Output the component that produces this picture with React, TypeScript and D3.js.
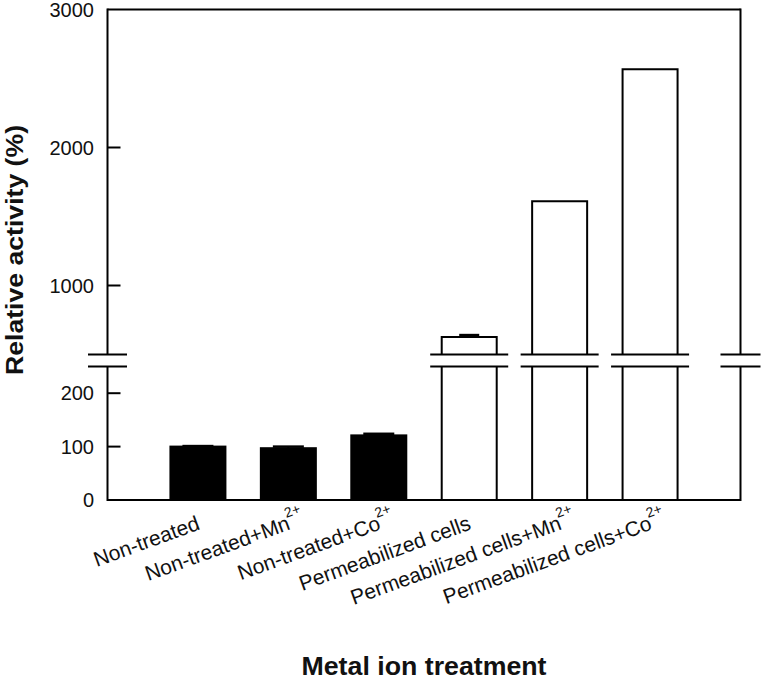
import React from "react";
import * as d3 from "d3";

const categories = [
  "Non-treated",
  "Non-treated+Mn",
  "Non-treated+Co",
  "Permeabilized cells",
  "Permeabilized cells+Mn",
  "Permeabilized cells+Co",
];
const superscripts = ["", "2+", "2+", "", "2+", "2+"];
const values = [100, 97, 121, 627, 1610, 2567];
const errors = [1, 3, 3, 12, 0, 0];
const lowerTicks = [0, 100, 200];
const upperTicks = [1000, 2000, 3000];
const lowerDomain = [0, 250];
const upperDomain = [500, 3000];

const W = 761;
const H = 680;
const FONT = "'Liberation Sans', Arial, sans-serif";

export default function App() {
  const left = 107.5;
  const right = 740.5;
  const bottom = 500;
  const top = 9.5;
  const breakLow = 366.5;
  const breakHigh = 354.5;

  const x = d3.scaleLinear().domain([0, categories.length + 1]).range([left, right]);
  const yLow = d3.scaleLinear().domain(lowerDomain).range([bottom, breakLow]);
  const yHigh = d3.scaleLinear().domain(upperDomain).range([breakHigh, top]);
  const y = (v: number) => (v <= lowerDomain[1] ? yLow(v) : yHigh(v));

  const barW = 55;
  const stroke = "#000";
  const sw = 2;

  const breakMark = (cx: number, half: number, key: string) => (
    <g key={key}>
      <line x1={cx - half} x2={cx + half} y1={breakHigh} y2={breakHigh} stroke={stroke} strokeWidth={sw} />
      <line x1={cx - half} x2={cx + half} y1={breakLow} y2={breakLow} stroke={stroke} strokeWidth={sw} />
    </g>
  );

  return (
    <div style={{ position: "fixed", left: 0, top: 0, width: W, height: H, background: "#fff" }}>
      <svg width={W} height={H} style={{ display: "block" }}>
        <rect width={W} height={H} fill="#fff" />
        {/* bars */}
        {values.map((v, i) => {
          const cx = x(i + 1);
          const x0 = cx - barW / 2;
          const x1 = cx + barW / 2;
          const filled = i < 3;
          const fill = filled ? "#000" : "#fff";
          const broken = v > lowerDomain[1];
          const err = errors[i];
          const capW = filled ? 31 : 20;
          const yTop = y(v);
          const yErr = y(v + err);
          if (!broken) {
            return (
              <g key={i}>
                <rect x={x0} y={yTop} width={barW} height={bottom - yTop} fill={fill} stroke={stroke} strokeWidth={sw} />
                {err > 0 && (
                  <g>
                    <line x1={cx} x2={cx} y1={yTop} y2={yErr} stroke={stroke} strokeWidth={sw} />
                    <line x1={cx - capW / 2} x2={cx + capW / 2} y1={yErr} y2={yErr} stroke={stroke} strokeWidth={2.5} />
                  </g>
                )}
              </g>
            );
          }
          return (
            <g key={i}>
              <path
                d={`M${x0},${breakHigh} L${x0},${yTop} L${x1},${yTop} L${x1},${breakHigh}`}
                fill={fill}
                stroke={stroke}
                strokeWidth={sw}
              />
              <path d={`M${x0},${bottom} L${x0},${breakLow} M${x1},${breakLow} L${x1},${bottom}`} fill="none" stroke={stroke} strokeWidth={sw} />
              {err > 0 && (
                <g>
                  <line x1={cx} x2={cx} y1={yTop} y2={yErr} stroke={stroke} strokeWidth={sw} />
                  <line x1={cx - capW / 2} x2={cx + capW / 2} y1={yErr} y2={yErr} stroke={stroke} strokeWidth={3} />
                </g>
              )}
              {breakMark(cx, barW / 2 + 11.5, "b" + i)}
            </g>
          );
        })}

        {/* frame */}
        <line x1={left} x2={right} y1={top} y2={top} stroke={stroke} strokeWidth={sw} />
        <line x1={left} x2={right} y1={bottom} y2={bottom} stroke={stroke} strokeWidth={sw} />
        <line x1={left} x2={left} y1={top - 1} y2={breakHigh} stroke={stroke} strokeWidth={sw} />
        <line x1={left} x2={left} y1={breakLow} y2={bottom + 1} stroke={stroke} strokeWidth={sw} />
        <line x1={right} x2={right} y1={top - 1} y2={breakHigh} stroke={stroke} strokeWidth={sw} />
        <line x1={right} x2={right} y1={breakLow} y2={bottom + 1} stroke={stroke} strokeWidth={sw} />
        {breakMark(left, 19.5, "bl")}
        {breakMark(right, 20, "br")}

        {/* y ticks */}
        {lowerTicks.map((t) => (
          <g key={"lt" + t}>
            {t > lowerDomain[0] && (
              <line x1={left} x2={left + 13} y1={yLow(t)} y2={yLow(t)} stroke={stroke} strokeWidth={sw} />
            )}
            <text x={94} y={yLow(t)} dy="0.35em" textAnchor="end" fontFamily={FONT} fontSize={20} fill="#111">
              {t}
            </text>
          </g>
        ))}
        {upperTicks.map((t) => (
          <g key={"ut" + t}>
            {t < upperDomain[1] && (
              <line x1={left} x2={left + 13} y1={yHigh(t)} y2={yHigh(t)} stroke={stroke} strokeWidth={sw} />
            )}
            <text x={94} y={yHigh(t)} dy="0.35em" textAnchor="end" fontFamily={FONT} fontSize={20} fill="#111">
              {t}
            </text>
          </g>
        ))}

        {/* category labels */}
        {categories.map((c, i) => (
          <g key={"c" + i} transform={`translate(${x(i + 1) + 3},529) rotate(-20)`}>
            <text x={0} y={0} textAnchor="end" fontFamily={FONT} fontSize={21} fill="#111">
              {c}
            </text>
            {superscripts[i] && (
              <text x={-1} y={-12} textAnchor="start" fontFamily={FONT} fontSize={14} fill="#111">
                {superscripts[i]}
              </text>
            )}
          </g>
        ))}

        {/* axis titles */}
        <text
          transform="translate(23,250) rotate(-90)"
          textAnchor="middle"
          fontFamily={FONT}
          fontWeight="bold"
          fontSize={23}
          textLength={250}
          lengthAdjust="spacingAndGlyphs"
          fill="#111"
        >
          Relative activity (%)
        </text>
        <text
          x={424}
          y={675}
          textAnchor="middle"
          fontFamily={FONT}
          fontWeight="bold"
          fontSize={25}
          textLength={245}
          lengthAdjust="spacingAndGlyphs"
          fill="#111"
        >
          Metal ion treatment
        </text>
      </svg>
    </div>
  );
}
